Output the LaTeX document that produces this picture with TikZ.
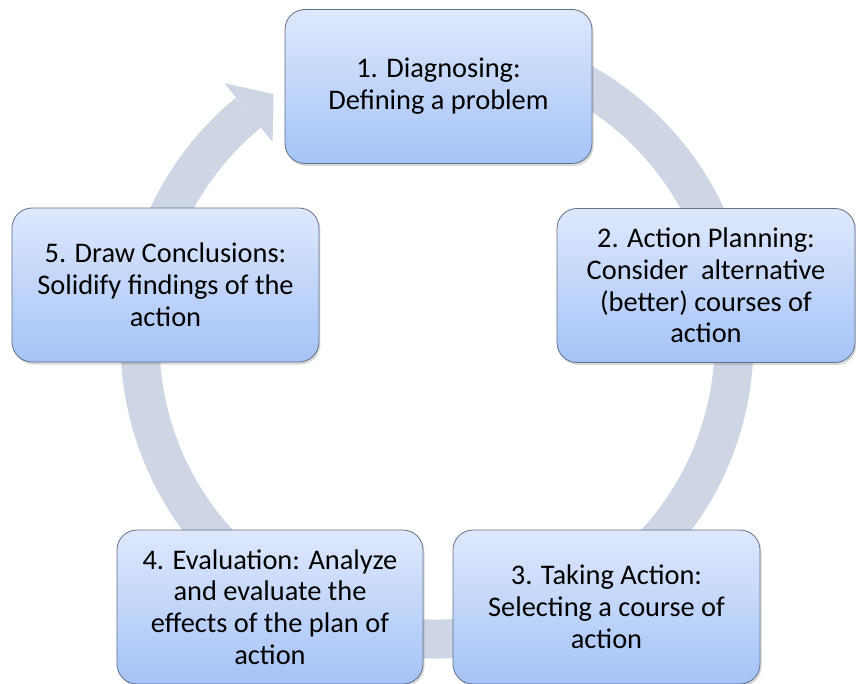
\documentclass[tikz,border=0pt]{standalone}
\usepackage{fontspec}
\setmainfont{Carlito}
\usetikzlibrary{shadows}
\definecolor{ringgray}{RGB}{206,213,228}
\definecolor{boxtop}{RGB}{222,232,252}
\definecolor{boxbot}{RGB}{164,195,247}
\definecolor{boxline}{RGB}{98,112,138}

\begin{document}
\begin{tikzpicture}[x=1pt,y=1pt,
    stage/.style={draw=boxline,line width=0.8pt,rounded corners=20pt,
      top color=boxtop,bottom color=boxbot,
      drop shadow={opacity=0.3,shadow xshift=1.5pt,shadow yshift=-2.5pt},
      align=center,inner sep=0pt,minimum height=154pt,
      font=\fontsize{28.4}{31.8}\selectfont}]
  \useasboundingbox (-437,-341) rectangle (419,342);
  % the cycle ring, ending in an arrow head at stage 1
  \draw[ringgray,line width=39pt] (100:297pt)
    arc[start angle=100,end angle=-230.6,radius=297pt];
  \fill[ringgray] (129.4:335) -- (123.4:297) -- (129.4:259) -- cycle;
  % the five stages
  \foreach \i/\x/\y/\w/\txt in {
      1/1.5/255.5/307/{1. Diagnosing:\\Defining a problem},
      2/269/56.5/298/{2. Action Planning:\\Consider\ \ alternative\\(better) courses of\\action},
      3/169.5/-265/307/{3. Taking Action:\\Selecting a course of\\action},
      4/-167/-265/306/{4. Evaluation: Analyze\\and evaluate the\\effects of the plan of\\action},
      5/-271.5/57/307/{5. Draw Conclusions:\\Solidify findings of the\\action}}{
    \node[stage,minimum width=\w pt] (s\i) at (\x,\y) {\txt};
  }
\end{tikzpicture}
\end{document}
